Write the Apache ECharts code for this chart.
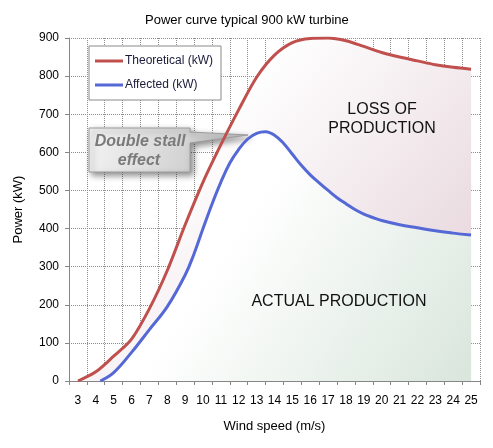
<!DOCTYPE html>
<html>
<head>
<meta charset="utf-8">
<script src="https://cdn.jsdelivr.net/npm/echarts@6/dist/echarts.min.js"></script>
<style>html,body{margin:0;padding:0;background:#fff;}#c{width:493px;height:448px;}</style>
</head>
<body>
<div id="c"></div>
<script>
const windCategories = ['3','4','5','6','7','8','9','10','11','12','13','14','15','16','17','18','19','20','21','22','23','24','25'];
const windTheoretical = [3,4,5,6,7,8,9,10,11,12,13,14,15,16,17,18,19,20,21,22,23,24,25];
const powerTheoretical = [0,24,65,110,190,290,410,522,620,712,797,855,888,899,900,893,878,862,850,840,830,823,818];
const windAffected = [4.25,5,6,7,8,9,9.5,10,10.5,11,11.5,12,12.5,13,13.5,14,14.5,15,15.5,16,16.5,17,17.5,18,18.5,19,19.5,20,21,22,23,24,25];
const powerAffected = [0,22,75,135,195,278,334,400,464,522,572,608,635,650,654,645,624,595,566,541,520,500,481,465,450,438,429,421,410,402,394,388,383];
const seriesNames = ['Theoretical (kW)', 'Affected (kW)'];

const theoData = windTheoretical.map((w, i) => [w, powerTheoretical[i]]);
const affData = windAffected.map((w, i) => [w, powerAffected[i]]);

const FONT = 'Arial, "Liberation Sans", sans-serif';
const RED = '#c0504d';
const BLUE = '#5468d6';

const chart = echarts.init(document.getElementById('c'));
chart.setOption({
  animation: false,
  backgroundColor: '#fff',
  title: {
    text: 'Power curve typical 900 kW turbine',
    left: 140, top: 9,
    textStyle: { fontFamily: FONT, fontSize: 13, fontWeight: 'normal', color: '#000' }
  },
  legend: {
    data: seriesNames,
    orient: 'vertical',
    left: 89, top: 46,
    borderColor: '#8a8a8a', borderWidth: 1, borderRadius: 0,
    backgroundColor: '#fff',
    padding: [9, 8, 9, 6],
    itemGap: 12,
    itemWidth: 28, itemHeight: 3,
    icon: 'rect',
    textStyle: { fontFamily: FONT, fontSize: 12, color: '#1a1a3a', padding: [0, 0, 0, -3] }
  },
  grid: { left: 69, right: 13, top: 38, bottom: 67, containLabel: false },
  xAxis: [
    {
      type: 'category',
      data: windCategories,
      boundaryGap: true,
      name: 'Wind speed (m/s)',
      nameLocation: 'middle',
      nameGap: 39,
      nameTextStyle: { fontFamily: FONT, fontSize: 13, color: '#000' },
      axisLine: { lineStyle: { color: '#868686', width: 1 } },
      axisTick: { show: true, interval: 0, length: 4, lineStyle: { color: '#868686' } },
      axisLabel: { interval: 0, margin: 14, fontFamily: FONT, fontSize: 12, color: '#000' },
      splitLine: { show: true, interval: 0, lineStyle: { type: 'dotted', color: '#8c8c8c', width: 1 } }
    },
    {
      type: 'value',
      show: false,
      min: 2.5, max: 25.5,
      splitLine: { show: false }
    }
  ],
  yAxis: {
    type: 'value',
    min: 0, max: 900, interval: 100,
    name: 'Power (kW)',
    nameLocation: 'middle',
    nameRotate: 90,
    nameGap: 44,
    nameTextStyle: { fontFamily: FONT, fontSize: 13, color: '#000' },
    axisLine: { show: true, lineStyle: { color: '#868686', width: 1 } },
    axisTick: { show: true, length: 4, lineStyle: { color: '#868686' } },
    axisLabel: { margin: 10, fontFamily: FONT, fontSize: 12, color: '#000' },
    splitLine: { show: true, lineStyle: { type: 'dotted', color: '#8c8c8c', width: 1 } }
  },
  series: [
    {
      name: 'theoArea', type: 'line', xAxisIndex: 1, data: theoData, smooth: 0.3,
      symbol: 'none', z: 1, silent: true,
      lineStyle: { width: 0, opacity: 0 },
      areaStyle: {
        opacity: 1,
        color: new echarts.graphic.LinearGradient(0, 0, 1, 1, [
          { offset: 0, color: '#ffffff' }, { offset: 0.3, color: '#ffffff' }, { offset: 1, color: '#e2ced5' }
        ])
      }
    },
    {
      name: 'affArea', type: 'line', xAxisIndex: 1, data: affData, smooth: 0.4,
      symbol: 'none', z: 1, silent: true,
      lineStyle: { width: 0, opacity: 0 },
      areaStyle: {
        opacity: 1,
        color: new echarts.graphic.LinearGradient(0, 0, 1, 1, [
          { offset: 0, color: '#ffffff' }, { offset: 0.38, color: '#ffffff' }, { offset: 1, color: '#d9e6dc' }
        ])
      }
    },
    {
      name: seriesNames[0], type: 'line', xAxisIndex: 1, data: theoData, smooth: 0.3,
      symbol: 'none', z: 3, color: RED,
      lineStyle: { width: 3, color: RED }
    },
    {
      name: seriesNames[1], type: 'line', xAxisIndex: 1, data: affData, smooth: 0.4,
      symbol: 'none', z: 3, color: BLUE,
      lineStyle: { width: 3, color: BLUE }
    }
  ],
  graphic: [
    {
      type: 'polygon', z: 2,
      shape: { points: [[89,128],[190,128],[190,132],[248,135],[190,143],[190,172],[89,172]] },
      style: {
        fill: new echarts.graphic.LinearGradient(0, 0, 1, 1, [
          { offset: 0, color: '#f4f4f4' }, { offset: 1, color: '#bdbdbd' }
        ]),
        stroke: '#9c9c9c', lineWidth: 1,
        shadowBlur: 6, shadowOffsetX: 3, shadowOffsetY: 3, shadowColor: 'rgba(0,0,0,0.45)'
      }
    },
    {
      type: 'text', z: 2, x: 140, y: 142,
      style: { text: 'Double stall', font: 'italic bold 16px ' + FONT, fill: '#7a7a7a', align: 'center', verticalAlign: 'middle' }
    },
    {
      type: 'text', z: 2, x: 139, y: 161,
      style: { text: 'effect', font: 'italic bold 16px ' + FONT, fill: '#7a7a7a', align: 'center', verticalAlign: 'middle' }
    },
    {
      type: 'text', z: 2, x: 382, y: 110,
      style: { text: 'LOSS OF', font: '16px ' + FONT, fill: '#111', align: 'center', verticalAlign: 'middle' }
    },
    {
      type: 'text', z: 2, x: 382, y: 129,
      style: { text: 'PRODUCTION', font: '16px ' + FONT, fill: '#111', align: 'center', verticalAlign: 'middle' }
    },
    {
      type: 'text', z: 2, x: 339, y: 302,
      style: { text: 'ACTUAL PRODUCTION', font: '16px ' + FONT, fill: '#111', align: 'center', verticalAlign: 'middle' }
    }
  ]
});
</script>
</body>
</html>
